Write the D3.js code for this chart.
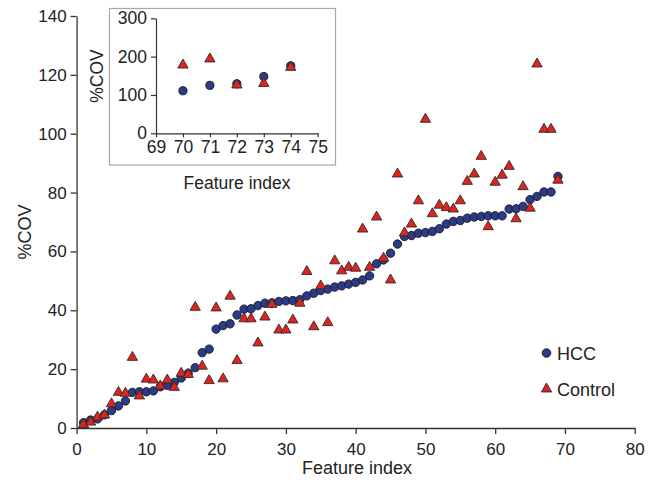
<!DOCTYPE html>
<html><head><meta charset="utf-8">
<script src="https://cdn.jsdelivr.net/npm/d3@7"></script>
<style>
html,body{margin:0;padding:0;background:#fff;}
svg{display:block;font-family:"Liberation Sans",Arial,Helvetica,sans-serif;}
</style></head>
<body>
<svg id="chart" width="656" height="481"></svg>
<script>
// Main chart data: feature index 1..69
const hcc = [1.8,2.7,3.1,4.5,5.9,7.5,9.2,12.1,12.3,12.3,
  12.6,14.0,14.5,15.5,17.0,18.6,20.5,25.6,26.8,33.6,
  34.8,35.4,38.4,40.4,40.5,41.6,42.4,42.5,43.0,43.2,
  43.3,43.6,44.9,45.8,46.7,47.2,47.9,48.3,48.9,49.5,
  50.3,51.7,55.8,57.1,59.4,62.5,65.1,65.4,66.2,66.4,
  66.8,67.7,69.3,70.2,70.5,71.3,71.7,71.9,72.1,72.1,
  72.1,74.4,74.5,75.3,77.6,78.7,80.2,80.2,85.5];
const control = [1.2,2.0,3.7,4.4,8.2,12.1,11.8,24.0,10.9,16.6,
  16.3,14.3,16.3,13.8,18.6,18.2,41.0,21.0,16.1,40.8,
  16.7,44.8,22.9,37.1,37.1,28.9,37.7,42.0,33.3,33.3,
  36.7,42.4,53.2,34.4,48.3,35.8,56.8,53.4,54.6,54.3,
  67.6,54.6,71.7,57.7,50.3,86.3,66.3,69.3,77.2,104.9,
  72.8,75.7,74.9,74.4,77.2,83.8,86.3,92.3,68.4,83.5,
  85.9,88.9,71.1,82.0,74.7,123.7,101.5,101.5,84.2];
const xTicks = [0,10,20,30,40,50,60,70,80];
const yTicks = [0,20,40,60,80,100,120,140];

// Inset data: feature index 70..74
const insetIndex = [70,71,72,73,74];
const insetHcc = [111,125,129,148,176];
const insetControl = [178,194,126,130,172];
const insetXTicks = [69,70,71,72,73,74,75];
const insetYTicks = [0,100,200,300];

const seriesNames = ["HCC","Control"];
const colors = {HCC:"#2c3a8a", Control:"#e2231d"};

const svg = d3.select("#chart");
const textColor = "#222";
const fmt = d3.format("d");

// ---------- main chart ----------
const x = d3.scaleLinear().domain([0,80]).range([76.6,634.7]);
const y = d3.scaleLinear().domain([0,140]).range([428,16]);

const gx = svg.append("g").attr("transform","translate(0,"+y(0)+")")
  .call(d3.axisBottom(x).tickValues(xTicks).tickFormat(fmt).tickSize(6).tickPadding(9).tickSizeOuter(0));
const gy = svg.append("g").attr("transform","translate("+x(0)+",0)")
  .call(d3.axisLeft(y).tickValues(yTicks).tickFormat(fmt).tickSize(6).tickPadding(4).tickSizeOuter(0));
[gx,gy].forEach(g=>{
  g.selectAll("path,line").attr("stroke","#333").attr("stroke-width",1.3);
  g.selectAll("text").attr("fill",textColor).style("font-size","17px")
   .style("font-family","'Liberation Sans',Arial,sans-serif");
});

svg.append("text").attr("x",357).attr("y",474).attr("text-anchor","middle")
  .attr("fill",textColor).style("font-size","18px").text("Feature index");
svg.append("text").attr("transform","translate(31,232) rotate(-90)").attr("text-anchor","middle")
  .attr("fill",textColor).style("font-size","18px").text("%COV");

const tri = d3.symbol().type(d3.symbolTriangle).size(46);

svg.append("g").selectAll("circle").data(hcc).join("circle")
  .attr("cx",(d,i)=>x(i+1)).attr("cy",d=>y(d)).attr("r",4.2)
  .attr("fill",colors.HCC).attr("stroke","#1a1a1a").attr("stroke-width",0.9);
svg.append("g").selectAll("path").data(control).join("path")
  .attr("d",tri).attr("transform",(d,i)=>"translate("+x(i+1)+","+y(d)+")")
  .attr("fill",colors.Control).attr("stroke","#2a2a2a").attr("stroke-width",0.9);

// legend
const leg = svg.append("g");
leg.append("circle").attr("cx",546.5).attr("cy",353).attr("r",4.3)
  .attr("fill",colors.HCC).attr("stroke","#1a1a1a").attr("stroke-width",0.9);
leg.append("text").attr("x",557).attr("y",359.5).attr("fill",textColor)
  .style("font-size","18px").text(seriesNames[0]);
leg.append("path").attr("d",tri).attr("transform","translate(546.5,389)")
  .attr("fill",colors.Control).attr("stroke","#2a2a2a").attr("stroke-width",0.9);
leg.append("text").attr("x",557).attr("y",395.5).attr("fill",textColor)
  .style("font-size","18px").text(seriesNames[1]);

// ---------- inset ----------
svg.append("rect").attr("x",109.5).attr("y",8.5).attr("width",226).attr("height",156.5)
  .attr("fill","#fff").attr("stroke","#a8a8a8").attr("stroke-width",1.2);

const ix = d3.scaleLinear().domain([69,75]).range([156,317.7]);
const iy = d3.scaleLinear().domain([0,300]).range([133.3,18.3]);

const igx = svg.append("g").attr("transform","translate(0,"+iy(0)+")")
  .call(d3.axisBottom(ix).tickValues(insetXTicks).tickFormat(fmt).tickSize(4).tickPadding(3).tickSizeOuter(0));
const igy = svg.append("g").attr("transform","translate("+ix(69)+",0)")
  .call(d3.axisLeft(iy).tickValues(insetYTicks).tickFormat(fmt).tickSize(5).tickPadding(4).tickSizeOuter(0));
[igx,igy].forEach(g=>{
  g.selectAll("path,line").attr("stroke","#333").attr("stroke-width",1.2);
  g.selectAll("text").attr("fill",textColor).style("font-size","17.5px")
   .style("font-family","'Liberation Sans',Arial,sans-serif");
});
svg.append("text").attr("x",237).attr("y",189).attr("text-anchor","middle")
  .attr("fill",textColor).style("font-size","17.5px").text("Feature index");
svg.append("text").attr("transform","translate(103,76) rotate(-90)").attr("text-anchor","middle")
  .attr("fill",textColor).style("font-size","17.5px").text("%COV");

svg.append("g").selectAll("circle").data(insetHcc).join("circle")
  .attr("cx",(d,i)=>ix(insetIndex[i])).attr("cy",d=>iy(d)).attr("r",4.1)
  .attr("fill",colors.HCC).attr("stroke","#1a1a1a").attr("stroke-width",0.9);
svg.append("g").selectAll("path").data(insetControl).join("path")
  .attr("d",tri).attr("transform",(d,i)=>"translate("+ix(insetIndex[i])+","+iy(d)+")")
  .attr("fill",colors.Control).attr("stroke","#2a2a2a").attr("stroke-width",0.9);
</script>
</body></html>
